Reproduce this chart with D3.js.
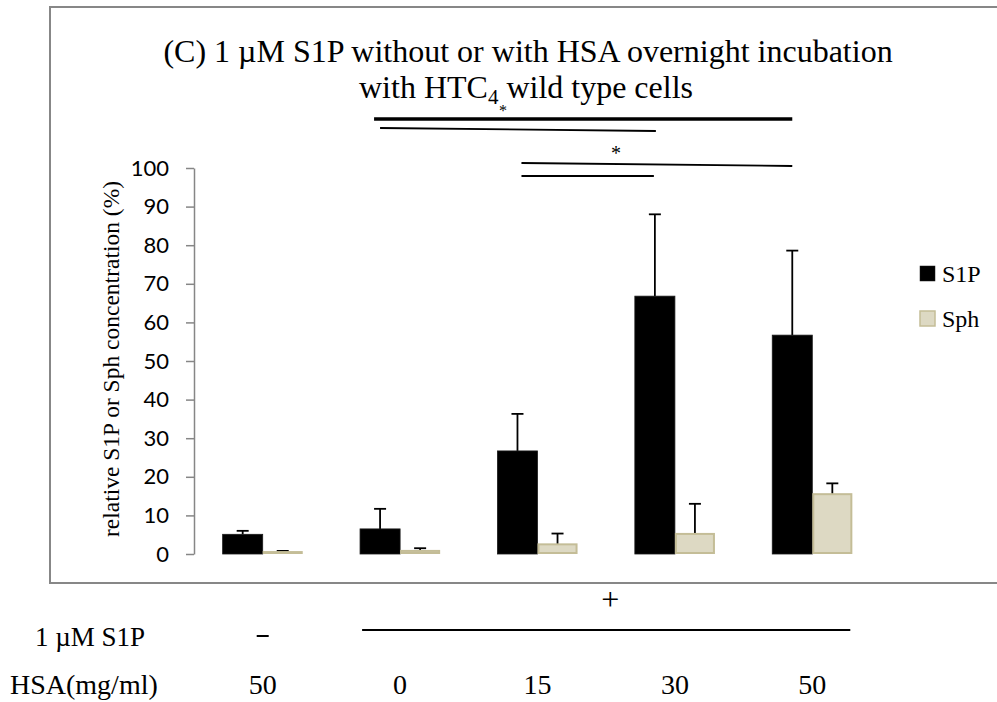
<!DOCTYPE html>
<html>
<head>
<meta charset="utf-8">
<script src="https://cdn.jsdelivr.net/npm/d3@7"></script>
<style>
  html, body { margin: 0; padding: 0; background: #fff; }
  svg { display: block; }
</style>
</head>
<body>
<svg id="chart" width="997" height="702"></svg>
<script>
// HSA concentration per condition and whether 1 µM S1P was added
const hsaLabels = ["50", "0", "15", "30", "50"];
const s1pAdded = [false, true, true, true, true];
const seriesNames = ["S1P", "Sph"];

// mean relative concentration (%) and SD (upper error bar)
const s1pMean = [5.1, 6.5, 26.7, 66.8, 56.7];
const s1pSD = [0.9, 5.2, 9.6, 21.2, 21.9];
const sphMean = [0.5, 0.8, 2.5, 5.2, 15.5];
const sphSD = [0.3, 0.7, 2.8, 7.8, 2.8];

const yTicks = [0, 10, 20, 30, 40, 50, 60, 70, 80, 90, 100];

// significance comparisons between S1P bars (condition indices)
const compFrom = [1, 1, 2, 2];
const compTo = [4, 3, 4, 3];

const svg = d3.select("#chart");
const serif = "'Liberation Serif', 'Times New Roman', serif";
const sans = "Lato, 'Open Sans', sans-serif";

svg.append("rect").attr("width", 997).attr("height", 702).attr("fill", "#fff");

// chart frame
svg.append("rect")
  .attr("x", 50).attr("y", 7).attr("width", 980).attr("height", 576)
  .attr("fill", "none").attr("stroke", "#878787").attr("stroke-width", 2);

const plot = { left: 194, right: 881, top: 168, bottom: 554 };

const x = d3.scaleBand()
  .domain(d3.range(hsaLabels.length))
  .range([plot.left, plot.right])
  .paddingInner(0.417)
  .paddingOuter(0.2085);

const xs = d3.scaleBand().domain(seriesNames).range([0, x.bandwidth()]);

const y = d3.scaleLinear().domain([0, 100]).range([plot.bottom, plot.top]);

// y axis
const yAxis = svg.append("g")
  .attr("transform", `translate(${plot.left},0)`)
  .call(d3.axisLeft(y).tickValues(yTicks).tickSize(8).tickSizeOuter(0).tickPadding(17));
yAxis.select(".domain").attr("stroke", "#868686").attr("stroke-width", 1.5);
yAxis.selectAll(".tick line").attr("stroke", "#868686").attr("stroke-width", 1.5);
yAxis.selectAll(".tick text")
  .attr("font-family", sans).attr("font-size", 22).attr("fill", "#000");

// y axis title
svg.append("text")
  .attr("transform", `translate(119,${(plot.top + plot.bottom) / 2 - 2}) rotate(-90)`)
  .attr("text-anchor", "middle")
  .attr("font-family", serif).attr("font-size", 23.5)
  .text("relative S1P or Sph concentration (%)");

// bars
const rows = hsaLabels.map((h, i) => ({
  i,
  vals: [
    { name: "S1P", mean: s1pMean[i], sd: s1pSD[i] },
    { name: "Sph", mean: sphMean[i], sd: sphSD[i] }
  ]
}));
const fills = { S1P: "#000000", Sph: "#ddd9c3" };
const strokes = { S1P: "#1a1a1a", Sph: "#c4bd97" };

const groups = svg.append("g").selectAll("g").data(rows).join("g")
  .attr("transform", d => `translate(${x(d.i)},0)`);

// error bars (upper only)
groups.selectAll("g.err").data(d => d.vals).join("g").attr("class", "err")
  .each(function (d) {
    const g = d3.select(this);
    const cx = xs(d.name) + xs.bandwidth() / 2;
    g.append("line")
      .attr("x1", cx).attr("x2", cx)
      .attr("y1", y(d.mean)).attr("y2", y(d.mean + d.sd))
      .attr("stroke", "#000").attr("stroke-width", 1.8);
    g.append("line")
      .attr("x1", cx - 6).attr("x2", cx + 6)
      .attr("y1", y(d.mean + d.sd)).attr("y2", y(d.mean + d.sd))
      .attr("stroke", "#000").attr("stroke-width", 1.8);
  });

groups.selectAll("rect").data(d => d.vals).join("rect")
  .attr("x", d => xs(d.name) + (d.name === "Sph" ? 1 : 0))
  .attr("width", d => xs.bandwidth() - (d.name === "Sph" ? 2 : 0))
  .attr("y", d => y(d.mean))
  .attr("height", d => y(0) - y(d.mean) - (d.name === "Sph" ? 1 : 0))
  .attr("fill", d => fills[d.name])
  .attr("stroke", d => strokes[d.name])
  .attr("stroke-width", d => d.name === "Sph" ? 2 : 0.8);

// legend
const legend = svg.append("g").attr("transform", "translate(920,266)");
seriesNames.forEach((name, k) => {
  const g = legend.append("g").attr("transform", `translate(0,${k * 45})`);
  g.append("rect").attr("width", 15).attr("height", 15)
    .attr("fill", fills[name]).attr("stroke", strokes[name])
    .attr("stroke-width", name === "Sph" ? 1.5 : 0.5);
  g.append("text").attr("x", 22).attr("y", 16)
    .attr("font-family", serif).attr("font-size", 24).text(name);
});

// title
const title = svg.append("text")
  .attr("x", 528).attr("text-anchor", "middle")
  .attr("font-family", serif).attr("font-size", 32);
title.append("tspan").attr("x", 528).attr("y", 62)
  .text("(C) 1 \u00b5M S1P without or with HSA overnight incubation");
const l2 = title.append("tspan").attr("x", 526).attr("y", 98);
l2.append("tspan").text("with HTC");
l2.append("tspan").attr("dy", 6).attr("font-size", 21).text("4");
l2.append("tspan").attr("dy", -6).text(" wild type cells");

// significance lines between S1P bars
const s1pCenter = i => x(i) + xs("S1P") + xs.bandwidth() / 2;
const sig = svg.append("g").attr("stroke", "#000").attr("fill", "none");
const comps = compFrom.map((f, k) => ({ f, t: compTo[k], k }));
const compStyle = [
  { y1: 119, y2: 119, w: 3.6, dx1: -6, dx2: 0 },
  { y1: 128, y2: 131, w: 1.8, dx1: 0, dx2: 1 },
  { y1: 163, y2: 166, w: 1.8, dx1: 4, dx2: 0 },
  { y1: 176, y2: 176, w: 1.8, dx1: 4, dx2: -1 }
];
comps.forEach(c => {
  const s = compStyle[c.k];
  sig.append("line")
    .attr("x1", s1pCenter(c.f) + s.dx1).attr("x2", s1pCenter(c.t) + s.dx2)
    .attr("y1", s.y1).attr("y2", s.y2)
    .attr("stroke-width", s.w);
});
svg.append("text").attr("x", 503).attr("y", 116).attr("text-anchor", "middle")
  .attr("font-family", serif).attr("font-size", 16).text("*");
svg.append("text").attr("x", 616).attr("y", 160).attr("text-anchor", "middle")
  .attr("font-family", serif).attr("font-size", 20).text("*");

// treatment rows below the chart
const rowFont = "'Liberation Serif', serif";
svg.append("text").attr("x", 35).attr("y", 646)
  .attr("font-family", rowFont).attr("font-size", 27).text("1 \u00b5M S1P");
svg.append("text").attr("x", 10).attr("y", 694)
  .attr("font-family", rowFont).attr("font-size", 28).text("HSA(mg/ml)");

const center = i => x(i) + x.bandwidth() / 2;
const plusIdx = d3.range(hsaLabels.length).filter(i => s1pAdded[i]);
const minusIdx = d3.range(hsaLabels.length).filter(i => !s1pAdded[i]);

minusIdx.forEach(i => {
  svg.append("line")
    .attr("x1", center(i) - 6).attr("x2", center(i) + 6)
    .attr("y1", 636).attr("y2", 636)
    .attr("stroke", "#000").attr("stroke-width", 2);
});
const plusLeft = center(plusIdx[0]) - 38;
const plusRight = center(plusIdx[plusIdx.length - 1]) + 38;
svg.append("line")
  .attr("x1", plusLeft).attr("x2", plusRight)
  .attr("y1", 630).attr("y2", 630)
  .attr("stroke", "#000").attr("stroke-width", 2);
svg.append("text").attr("x", (plusLeft + plusRight) / 2 + 4).attr("y", 610)
  .attr("text-anchor", "middle")
  .attr("font-family", rowFont).attr("font-size", 32).text("+");

svg.append("g").selectAll("text").data(hsaLabels).join("text")
  .attr("x", (d, i) => center(i)).attr("y", 694)
  .attr("text-anchor", "middle")
  .attr("font-family", rowFont).attr("font-size", 28)
  .text(d => d);
</script>
</body>
</html>
